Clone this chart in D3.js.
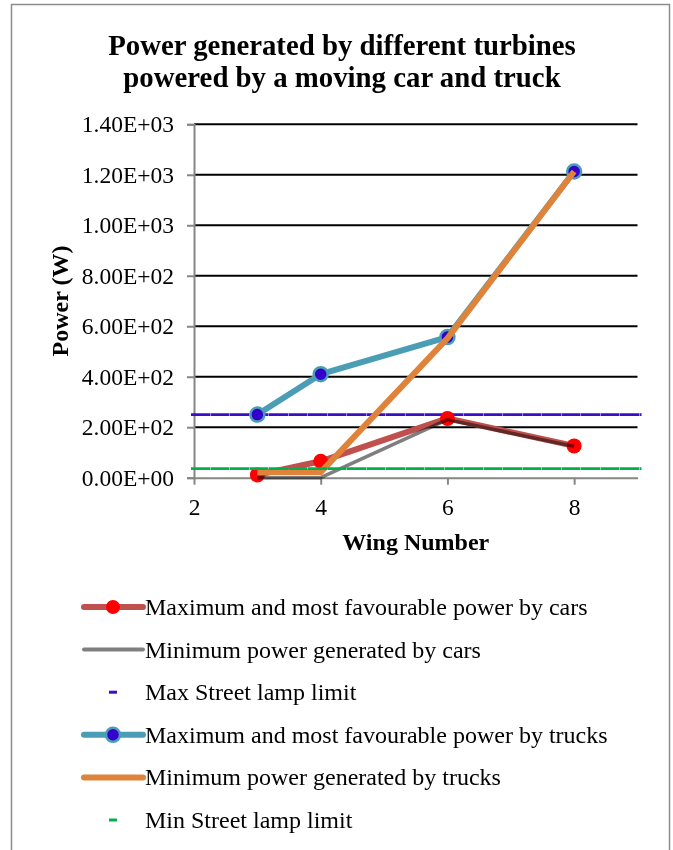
<!DOCTYPE html>
<html>
<head>
<meta charset="utf-8">
<script src="https://cdn.jsdelivr.net/npm/d3@7"></script>
<style>
  html, body { margin: 0; padding: 0; background: #fff; }
  svg { display: block; }
  text { font-family: "Liberation Serif", "Times New Roman", serif; fill: #000; }
</style>
</head>
<body>
<svg id="chart" width="673" height="850"></svg>
<script>
// Wing numbers tested
const wings = [3, 4, 6, 8];
// Power output (W) per wing number
const maxCars   = [11, 65, 235, 126];
const minCars   = [0, 0, 230, 124];
const maxTrucks = [250, 410, 557, 1213];
const minTrucks = [22, 22, 552, 1213];
// Street lamp power limits (W)
const maxLampLimit = 250;
const minLampLimit = 36;

const xTicks = [2, 4, 6, 8];
const yTicks = [0, 200, 400, 600, 800, 1000, 1200, 1400];

const title = ["Power generated by different turbines", "powered by a moving car and truck"];

const svg = d3.select("#chart");
const M = { left: 194, right: 637.5, top: 124.3, bottom: 477.7 };

const x = d3.scaleLinear().domain([2, 9]).range([M.left, M.right]);
const y = d3.scaleLinear().domain([0, 1400]).range([M.bottom, M.top]);

// outer frame
svg.append("rect")
  .attr("x", 11.5).attr("y", 4.5).attr("width", 658).attr("height", 860)
  .attr("fill", "none").attr("stroke", "#8c8c8c").attr("stroke-width", 1.5);

// title
svg.append("text")
  .attr("text-anchor", "middle")
  .attr("font-size", 28.8).attr("font-weight", "bold")
  .selectAll("tspan").data(title).join("tspan")
  .attr("x", 342).attr("y", (d, i) => 55 + i * 32).text(d => d);

// horizontal gridlines
svg.append("g").selectAll("line").data(yTicks.filter(v => v > 0)).join("line")
  .attr("x1", M.left).attr("x2", M.right)
  .attr("y1", d => y(d)).attr("y2", d => y(d))
  .attr("stroke", "#000").attr("stroke-width", 2);

// y axis, labels in spreadsheet-style scientific notation
const sci = d => {
  const [m, e] = d3.format(".2e")(d).split("e");
  const sign = e[0] === "-" ? "-" : "+";
  return m + "E" + sign + Math.abs(+e).toString().padStart(2, "0");
};
const yAxis = svg.append("g").attr("transform", `translate(${M.left},0)`)
  .call(d3.axisLeft(y).tickValues(yTicks).tickSize(7).tickPadding(13).tickFormat(sci));
yAxis.select(".domain").attr("stroke", "#868686").attr("stroke-width", 2);
yAxis.selectAll(".tick line").attr("stroke", "#868686").attr("stroke-width", 2);
yAxis.selectAll(".tick text").attr("font-size", 23.5)
  .attr("font-family", "Liberation Serif").attr("fill", "#000");

// x axis
const xAxis = svg.append("g").attr("transform", `translate(0,${M.bottom})`)
  .call(d3.axisBottom(x).tickValues(xTicks).tickSize(7).tickPadding(14)
    .tickSizeOuter(0).tickFormat(d3.format("d")));
xAxis.select(".domain").attr("stroke", "#868686").attr("stroke-width", 2);
xAxis.selectAll(".tick line").attr("stroke", "#868686").attr("stroke-width", 2);
xAxis.selectAll(".tick text").attr("font-size", 23.5)
  .attr("font-family", "Liberation Serif").attr("fill", "#000");

// axis titles
svg.append("text")
  .attr("transform", `translate(68,${(M.top + M.bottom) / 2}) rotate(-90)`)
  .attr("text-anchor", "middle").attr("font-size", 24).attr("font-weight", "bold")
  .text("Power (W)");
svg.append("text")
  .attr("x", (M.left + M.right) / 2).attr("y", 550)
  .attr("text-anchor", "middle").attr("font-size", 24).attr("font-weight", "bold")
  .text("Wing Number");

const line = d3.line().x(d => x(d[0])).y(d => y(d[1]));
const pts = vals => wings.map((w, i) => [w, vals[i]]);

// lamp limit lines, spanning the whole plot width
const lampLine = (v, color) => svg.append("line")
  .attr("x1", M.left - 3).attr("x2", M.right + 4)
  .attr("y1", y(v)).attr("y2", y(v))
  .attr("stroke", color).attr("stroke-width", 2.6)
  .attr("stroke-dasharray", "19,0.5");
lampLine(maxLampLimit, "#3a0fc4");

// maximum power by cars
svg.append("path").datum(pts(maxCars)).attr("d", line)
  .attr("fill", "none").attr("stroke", "#c0504d").attr("stroke-width", 6)
  .attr("stroke-linejoin", "round");
svg.append("g").selectAll("circle").data(pts(maxCars)).join("circle")
  .attr("cx", d => x(d[0])).attr("cy", d => y(d[1])).attr("r", 7.5)
  .attr("fill", "#ff0000");

// minimum power by cars (multiplied over the red series)
svg.append("path").datum(pts(minCars)).attr("d", line)
  .attr("fill", "none").attr("stroke", "#7f7f7f").attr("stroke-width", 3.5)
  .attr("stroke-linejoin", "round").style("mix-blend-mode", "multiply");

// maximum power by trucks
svg.append("path").datum(pts(maxTrucks)).attr("d", line)
  .attr("fill", "none").attr("stroke", "#4a9db5").attr("stroke-width", 6)
  .attr("stroke-linejoin", "round");
svg.append("g").selectAll("circle").data(pts(maxTrucks)).join("circle")
  .attr("cx", d => x(d[0])).attr("cy", d => y(d[1])).attr("r", 7)
  .attr("fill", "#3300cc").attr("stroke", "#4a9db5").attr("stroke-width", 2.5);

// minimum power by trucks
svg.append("path").datum(pts(minTrucks)).attr("d", line)
  .attr("fill", "none").attr("stroke", "#e0833a").attr("stroke-width", 6)
  .attr("stroke-linejoin", "round");

lampLine(minLampLimit, "#00b050");

// legend
const legend = [
  { label: "Maximum and most favourable power by cars", kind: "line", color: "#c0504d", w: 6, marker: { fill: "#ff0000", stroke: null } },
  { label: "Minimum power generated by cars", kind: "line", color: "#7f7f7f", w: 4 },
  { label: "Max Street lamp limit", kind: "dash", color: "#3a0fc4" },
  { label: "Maximum and most favourable power by trucks", kind: "line", color: "#4a9db5", w: 6, marker: { fill: "#3300cc", stroke: "#4a9db5" } },
  { label: "Minimum power generated by trucks", kind: "line", color: "#e0833a", w: 6 },
  { label: "Min Street lamp limit", kind: "dash", color: "#00b050" }
];
const lg = svg.append("g").selectAll("g").data(legend).join("g")
  .attr("transform", (d, i) => `translate(0,${607 + i * 42.6})`);
lg.filter(d => d.kind === "line").append("line")
  .attr("x1", 84).attr("x2", 143).attr("y1", 0).attr("y2", 0)
  .attr("stroke", d => d.color).attr("stroke-width", d => d.w).attr("stroke-linecap", "round");
lg.filter(d => d.marker).append("circle")
  .attr("cx", 113).attr("cy", 0).attr("r", 7)
  .attr("fill", d => d.marker.fill)
  .attr("stroke", d => d.marker.stroke || "none").attr("stroke-width", 2.5);
lg.filter(d => d.kind === "dash").append("line")
  .attr("x1", 109).attr("x2", 117).attr("y1", 0).attr("y2", 0)
  .attr("stroke", d => d.color).attr("stroke-width", 3);
lg.append("text").attr("x", 145).attr("y", 8)
  .attr("font-size", 24).text(d => d.label);
</script>
</body>
</html>
